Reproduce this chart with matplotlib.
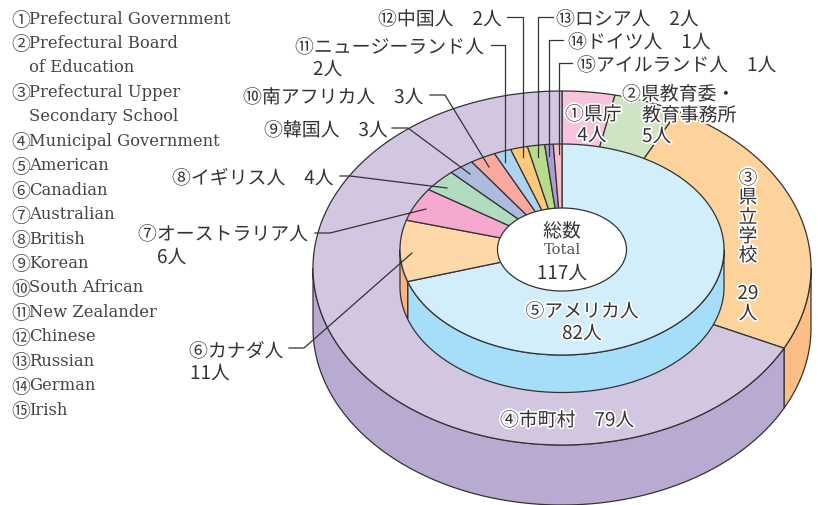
import numpy as np
import matplotlib
matplotlib.use("Agg")
import matplotlib.pyplot as plt
import matplotlib.patheffects as pe
from matplotlib.patches import Polygon, Ellipse

JP = ["Noto Sans CJK JP", "DejaVu Sans"]
SERIF = ["DejaVu Serif", "Noto Sans CJK JP"]
INK = "#333333"

# data
outer_values = [4, 5, 29, 79]
outer_colors = ["#F7C4DC", "#CFE4C3", "#FDD39B", "#D2C6E1"]
outer_side_colors = ["#F7C4DC", "#CFE4C3", "#FDBE85", "#B9AAD2"]

inner_values = [82, 11, 6, 4, 3, 3, 2, 2, 2, 1, 1]
inner_colors = ["#D2EEFB", "#FFD8A9", "#F6A9CE", "#B1DCC0", "#AEBBE1", "#F9A99F",
                "#ADD3F0", "#FFC97C", "#B8DA8B", "#AC9CCF", "#F9BFC8"]
inner_side_colors = ["#A6DEF9", "#FDB380"] + inner_colors[2:]

legend_marks = ["①", "②", "", "③", "", "④", "⑤", "⑥", "⑦", "⑧", "⑨", "⑩", "⑪", "⑫", "⑬", "⑭", "⑮"]
legend_names = ["Prefectural Government", "Prefectural Board", "of Education",
                "Prefectural Upper", "Secondary School", "Municipal Government",
                "American", "Canadian", "Australian", "British", "Korean",
                "South African", "New Zealander", "Chinese", "Russian",
                "German", "Irish"]

# text, x, y, ha
labels = [
    ("⑮アイルランド人　1人", 577, 64, "left"),
    ("⑭ドイツ人　1人", 568, 41, "left"),
    ("⑬ロシア人　2人", 556, 18, "left"),
    ("⑫中国人　2人", 378, 18, "left"),
    ("⑪ニュージーランド人", 295, 46, "left"),
    ("2人", 313, 68, "left"),
    ("⑩南アフリカ人　3人", 243, 96, "left"),
    ("⑨韓国人　3人", 264, 129, "left"),
    ("⑧イギリス人　4人", 172, 177, "left"),
    ("⑦オーストラリア人", 138, 233, "left"),
    ("6人", 157, 256, "left"),
    ("⑥カナダ人", 189, 350, "left"),
    ("11人", 190, 372, "left"),
    ("④市町村　79人", 500, 419, "left"),
    ("⑤アメリカ人", 582, 310, "center"),
    ("82人", 582, 332, "center"),
    ("①県庁", 565, 113, "left"),
    ("4人", 592, 134, "center"),
    ("②県教育委・", 622, 93, "left"),
    ("教育事務所", 642, 114, "left"),
    ("5人", 642, 135, "left"),
    ("③", 748, 177, "center"),
    ("県", 748, 196, "center"),
    ("立", 748, 216, "center"),
    ("学", 748, 235, "center"),
    ("校", 748, 254, "center"),
    ("29", 748, 292, "center"),
    ("人", 748, 312, "center"),
    ("総数", 562, 230, "center"),
    ("117人", 562, 272, "center"),
]

leaders = [
    ([430, 445, 489], [96, 96, 168]),
    ([392, 408, 470], [129, 129, 175]),
    ([340, 350, 447], [177, 177, 189]),
    ([315, 330, 426], [234, 234, 210]),
    ([289, 304, 412], [349, 349, 254]),
    ([491, 505, 505], [46, 46, 163]),
    ([507, 523, 523], [18, 18, 158]),
    ([553, 538, 538], [18, 18, 158]),
    ([563, 549, 549], [41, 41, 157]),
    ([572, 559, 559], [64, 64, 155]),
]

# ellipses in pixels: cx, cy, rx, ry
OUTER = (562, 269, 249, 177)
OUTER_HUB = (562, 275)
OUTER_DEPTH = 60
INNER = (562, 250.5, 162, 105.5)
HOLE = (562, 250.5, 64.5, 41.5)
INNER_DEPTH = 37.5


def rim(ell, t0, t1, dy=0):
    # clockwise from the top of the ellipse, degrees
    t = np.radians(np.linspace(t0, t1, max(int(abs(t1 - t0) * 2), 2)))
    cx, cy, rx, ry = ell
    return np.column_stack([cx + rx * np.sin(t), cy + dy - ry * np.cos(t)])


def spans(values):
    edges = np.cumsum([0] + list(values)) / sum(values) * 360
    return list(zip(edges[:-1], edges[1:]))


def draw_side(ax, ell, depth, t0, t1, color, z):
    t0, t1 = max(t0, 90), min(t1, 270)
    if t1 <= t0:
        return
    top = rim(ell, t0, t1)
    bottom = rim(ell, t0, t1, depth)[::-1]
    ax.add_patch(Polygon(np.vstack([top, bottom]), closed=True, fc=color,
                         ec=INK, lw=0.9, zorder=z))


fig = plt.figure(figsize=(8.18, 5.06), dpi=100)
ax = fig.add_axes([0, 0, 1, 1])
ax.set_xlim(0, 818)
ax.set_ylim(506, 0)
ax.axis("off")

# outer ring
for (t0, t1), c in zip(spans(outer_values), outer_side_colors):
    draw_side(ax, OUTER, OUTER_DEPTH, t0, t1, c, 1)
for (t0, t1), c in zip(spans(outer_values), outer_colors):
    pts = np.vstack([[OUTER_HUB], rim(OUTER, t0, t1)])
    ax.add_patch(Polygon(pts, closed=True, fc=c, ec=INK, lw=0.9, zorder=2))

# inner ring
for (t0, t1), c in zip(spans(inner_values), inner_side_colors):
    draw_side(ax, INNER, INNER_DEPTH, t0, t1, c, 3)
for (t0, t1), c in zip(spans(inner_values), inner_colors):
    pts = np.vstack([[INNER[:2]], rim(INNER, t0, t1)])
    ax.add_patch(Polygon(pts, closed=True, fc=c, ec=INK, lw=0.9, zorder=4))
ax.add_patch(Ellipse(HOLE[:2], 2 * HOLE[2], 2 * HOLE[3], fc="white", ec=INK, lw=0.9, zorder=5))

for xs, ys in leaders:
    ax.plot(xs, ys, color=INK, lw=0.9, zorder=6)

halo = [pe.withStroke(linewidth=2.5, foreground="white")]
for s, x, y, ha in labels:
    ax.text(x, y + 2.5, s, family=JP, fontsize=13.6, color=INK, ha=ha, va="center",
            path_effects=halo, zorder=7)
ax.text(562, 250, "Total", family=SERIF, fontsize=10.6, color="#555555", ha="center",
        va="center", zorder=7)

for i, (mark, name) in enumerate(zip(legend_marks, legend_names)):
    y = 19 + i * 24.45
    if mark:
        ax.text(11, y + 1.5, mark, family=JP, fontsize=13.6, color="#444444",
                ha="left", va="center", zorder=7)
    ax.text(29, y, name, family=SERIF, fontsize=11.8, color="#444444",
            ha="left", va="center", zorder=7)

fig.savefig("out.png", dpi=100)
